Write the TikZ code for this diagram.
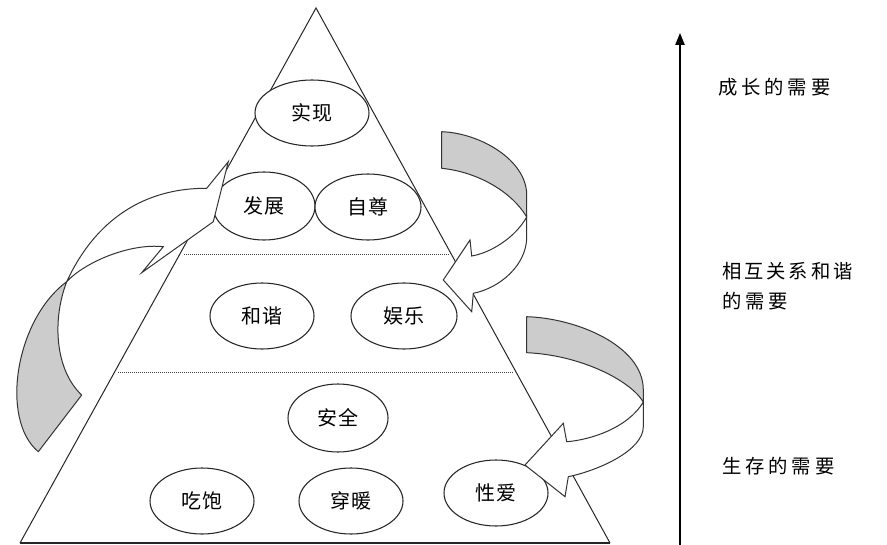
\documentclass[tikz,border=0pt]{standalone}
\usepackage{fontspec}
\newfontfamily\cjk{Noto Sans CJK SC}
\newfontfamily\cjkell[LetterSpace=8]{Noto Sans CJK SC}
\newfontfamily\cjklbl[LetterSpace=20]{Noto Sans CJK SC}
\newfontfamily\cjkwide[LetterSpace=15]{Noto Sans CJK SC}
\usetikzlibrary{shapes.geometric,arrows.meta}
\begin{document}
\begin{tikzpicture}[x=0.75pt,y=-0.75pt,
  ell/.style={draw=black!85, line width=0.8pt, fill=white, ellipse, inner sep=0pt,
              font=\cjkell\fontsize{15pt}{18pt}\selectfont},
  lbl/.style={anchor=west, font=\cjklbl\fontsize{14.5pt}{22.5pt}\selectfont, align=left, inner sep=0pt},
  edgeline/.style={draw=black!85, line width=0.75pt},
  dots/.style={draw=black!75, line width=0.6pt, dash pattern=on 0.75pt off 0.75pt},
  greypart/.style={fill=black!20, draw=black!80, line width=0.75pt, line join=round},
  whitepart/.style={fill=white, draw=black!80, line width=0.75pt, line join=miter},
]
\useasboundingbox (0,0) rectangle (887,545);

% pyramid
\coordinate (apex) at (316,8);
\coordinate (bl) at (20,543);
\coordinate (br) at (610,543);
\draw[edgeline] (bl) -- (apex) -- (br);
\draw[edgeline, line width=1.1pt] (bl) -- (br);

% dotted separators
\coordinate (d1l) at (184,254);
\coordinate (d1r) at (449,254);
\coordinate (d2l) at (118,372);
\coordinate (d2r) at (514,372);
\draw[dots] (d1l) -- (d1r);
\draw[dots] (d2l) -- (d2r);

% ellipses
\node[ell, minimum width=85.5pt, minimum height=49.5pt] (shixian) at (312,113) {实现};
\node[ell, minimum width=76.5pt, minimum height=51pt]   (fazhan) at (264,206) {发展};
\node[ell, minimum width=79.5pt, minimum height=49.5pt] (zizun)  at (368,207) {自尊};
\node[ell, minimum width=78pt,   minimum height=49.5pt] (hexie)  at (262,316) {和谐};
\node[ell, minimum width=79.5pt, minimum height=49.5pt] (yule)   at (404,316) {娱乐};
\node[ell, minimum width=75pt,   minimum height=51pt]   (anquan) at (338,418) {安全};
\node[ell, minimum width=78pt,   minimum height=49.5pt] (chibao) at (202,501) {吃饱};
\node[ell, minimum width=78pt,   minimum height=49.5pt] (chuan)  at (351,501) {穿暖};
\node[ell, minimum width=78pt,   minimum height=49.5pt] (xingai) at (496,493) {性爱};

% left curved arrow
\path[greypart] (66.7,281.7) .. controls (15,320) and (0,420) .. (38.3,451.7)
   -- (81.7,395) .. controls (55,370) and (52,320) .. (66.7,281.7) -- cycle;
\path[whitepart] (66.7,281.7) .. controls (100,210) and (155,188) .. (206.7,188.3)
   -- (228.3,161.7) -- (213.3,221.7) -- (141.7,272.7) -- (163.3,246.7)
   .. controls (130,243) and (85,262) .. (66.7,281.7) -- cycle;

% upper right curved arrow
\path[greypart] (441.7,131.7) .. controls (480,133) and (526.7,160) .. (526.7,195)
   -- (526.7,217) .. controls (512,192) and (478,172) .. (441.7,168.3) -- cycle;
\path[whitepart] (526.7,217) .. controls (515,238) and (490,253) .. (471.7,256)
   -- (470,240) -- (443.3,280) -- (471.7,311.7) -- (473.3,293.3)
   .. controls (500,288) and (526.7,265) .. (526.7,237) -- cycle;

% lower right curved arrow
\path[greypart] (526.7,316.7) .. controls (575,318) and (643.3,345) .. (643.3,390)
   -- (643.3,402) .. controls (630,380) and (580,355) .. (526.7,352.7) -- cycle;
\path[whitepart] (643.3,402) .. controls (628,428) and (590,440) .. (566.7,441.7)
   -- (563.3,423.3) -- (525,465) -- (565,496.7) -- (568.3,476.7)
   .. controls (600,470) and (643.3,450) .. (643.3,426.7) -- cycle;

% axis
\coordinate (axb) at (680,545);
\coordinate (axt) at (680,33);
\draw[line width=1pt, -{Triangle[width=7pt,length=9pt]}] (axb) -- (axt);

% labels
\node[lbl] (grow) at (718,87) {成长的需要};
\node[lbl] (rel)  at (722,286) {{\cjkwide 相互关系和谐}\\的需要};
\node[lbl] (live) at (722,466) {生存的需要};
\end{tikzpicture}
\end{document}
